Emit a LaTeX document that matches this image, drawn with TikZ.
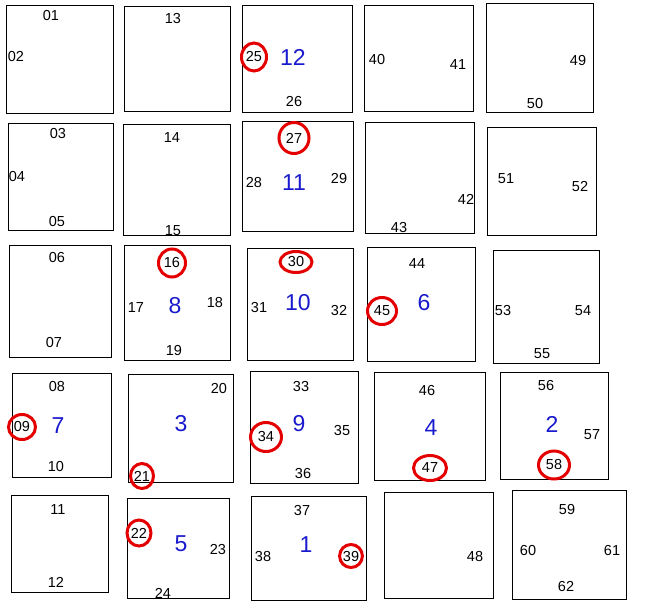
\documentclass[tikz,border=0pt]{standalone}
\usepackage{fontspec}
\setmainfont{Liberation Sans}
\usetikzlibrary{positioning, shapes.geometric, fit}
\definecolor{numblue}{RGB}{25,25,205}
\definecolor{ringred}{RGB}{228,0,0}

\begin{document}
\begin{tikzpicture}[x=1pt, y=-1pt,
    box/.style={draw, line width=1pt, inner sep=0pt},
    lab/.style={inner sep=0pt, font=\fontsize{14.5}{14.5}\selectfont},
    num/.style={inner sep=0pt, text=numblue, font=\fontsize{23}{23}\selectfont},
    ring/.style={draw=ringred, line width=3pt, ellipse, inner sep=0pt}]
    \useasboundingbox (0,0) rectangle (651,603);

    % Cases (ligne 1)
    \node[box, fit={(6,5) (113,113)}] (b11) {};
    \node[box, fit={(124,6) (230,111)}] (b12) {};
    \node[box, fit={(242,5) (352,112)}] (b13) {};
    \node[box, fit={(364,5) (473,111)}] (b14) {};
    \node[box, fit={(486,3) (593,112)}] (b15) {};
    % Cases (ligne 2)
    \node[box, fit={(8,123) (113,230)}] (b21) {};
    \node[box, fit={(123,124) (230,235)}] (b22) {};
    \node[box, fit={(242,121) (353,231)}] (b23) {};
    \node[box, fit={(365,122) (474,233)}] (b24) {};
    \node[box, fit={(487,127) (596,235)}] (b25) {};
    % Cases (ligne 3)
    \node[box, fit={(9,245) (111,357)}] (b31) {};
    \node[box, fit={(124,245) (230,360)}] (b32) {};
    \node[box, fit={(247,248) (353,360)}] (b33) {};
    \node[box, fit={(367,247) (475,361)}] (b34) {};
    \node[box, fit={(493,250) (599,363)}] (b35) {};
    % Cases (ligne 4)
    \node[box, fit={(12,373) (111,477)}] (b41) {};
    \node[box, fit={(128,374) (233,482)}] (b42) {};
    \node[box, fit={(250,371) (358,483)}] (b43) {};
    \node[box, fit={(374,372) (485,480)}] (b44) {};
    \node[box, fit={(500,372) (608,479)}] (b45) {};
    % Cases (ligne 5)
    \node[box, fit={(11,495) (108,592)}] (b51) {};
    \node[box, fit={(127,498) (229,598)}] (b52) {};
    \node[box, fit={(251,496) (366,600)}] (b53) {};
    \node[box, fit={(384,492) (493,598)}] (b54) {};
    \node[box, fit={(512,490) (626,599)}] (b55) {};

    % Numeros des pieces
    \node[num] (n12) at (293,57) {12};
    \node[num] (n11) at (294,183) {11};
    \node[num] (n8) at (175,306) {8};
    \node[num] (n10) at (298,303) {10};
    \node[num] (n6) at (424,303) {6};
    \node[num] (n7) at (58,426) {7};
    \node[num] (n3) at (181,424) {3};
    \node[num] (n9) at (299,424) {9};
    \node[num] (n4) at (431,428) {4};
    \node[num] (n2) at (552,424) {2};
    \node[num] (n5) at (181,544) {5};
    \node[num] (n1) at (306,545) {1};

    % Reperes (ligne 1)
    \node[lab] (p01) at (51,16) {01};
    \node[lab] (p02) at (16,57) {02};
    \node[lab] (p13) at (173,19) {13};
    \node[lab, ring, minimum width=25, minimum height=28] (p25) at (254,57) {25};
    \node[lab] (p26) at (294,102) {26};
    \node[lab] (p40) at (377,60) {40};
    \node[lab] (p41) at (458,65) {41};
    \node[lab] (p49) at (578,61) {49};
    \node[lab] (p50) at (535,104) {50};
    % Reperes (ligne 2)
    \node[lab] (p03) at (58,134) {03};
    \node[lab] (p04) at (17,177) {04};
    \node[lab] (p05) at (57,222) {05};
    \node[lab] (p14) at (172,138) {14};
    \node[lab] (p15) at (173,231) {15};
    \node[lab, ring, minimum width=30, minimum height=31] (p27) at (294,138) {27};
    \node[lab] (p28) at (254,183) {28};
    \node[lab] (p29) at (339,179) {29};
    \node[lab] (p42) at (466,199) {42};
    \node[lab] (p43) at (399,228) {43};
    \node[lab] (p51) at (506,179) {51};
    \node[lab] (p52) at (580,187) {52};
    % Reperes (ligne 3)
    \node[lab] (p06) at (57,258) {06};
    \node[lab] (p07) at (54,343) {07};
    \node[lab, ring, minimum width=27, minimum height=28] (p16) at (172,263) {16};
    \node[lab] (p17) at (136,308) {17};
    \node[lab] (p18) at (215,303) {18};
    \node[lab] (p19) at (174,351) {19};
    \node[lab, ring, minimum width=32, minimum height=21] (p30) at (296,262) {30};
    \node[lab] (p31) at (259,308) {31};
    \node[lab] (p32) at (339,311) {32};
    \node[lab] (p44) at (417,264) {44};
    \node[lab, ring, minimum width=29, minimum height=27] (p45) at (382,311) {45};
    \node[lab] (p53) at (503,311) {53};
    \node[lab] (p54) at (583,311) {54};
    \node[lab] (p55) at (542,354) {55};
    % Reperes (ligne 4)
    \node[lab] (p08) at (57,387) {08};
    \node[lab, ring, minimum width=27, minimum height=25] (p09) at (22,427) {09};
    \node[lab] (p10) at (56,467) {10};
    \node[lab] (p20) at (219,389) {20};
    \node[lab, ring, minimum width=23, minimum height=25] (p21) at (142,476) {21};
    \node[lab] (p33) at (301,387) {33};
    \node[lab, ring, minimum width=31, minimum height=29] (p34) at (266,437) {34};
    \node[lab] (p35) at (342,431) {35};
    \node[lab] (p36) at (303,474) {36};
    \node[lab] (p46) at (427,391) {46};
    \node[lab, ring, minimum width=33, minimum height=25] (p47) at (430,468) {47};
    \node[lab] (p56) at (546,386) {56};
    \node[lab] (p57) at (592,435) {57};
    \node[lab, ring, minimum width=31, minimum height=28] (p58) at (554,465) {58};
    % Reperes (ligne 5)
    \node[lab] (p11) at (58,510) {11};
    \node[lab] (p12) at (56,582) {12};
    \node[lab, ring, minimum width=24, minimum height=26] (p22) at (139,533) {22};
    \node[lab] (p23) at (218,550) {23};
    \node[lab] (p24) at (163,593) {24};
    \node[lab] (p37) at (302,511) {37};
    \node[lab] (p38) at (263,557) {38};
    \node[lab, ring, minimum width=21, minimum height=23] (p39) at (351,556) {39};
    \node[lab] (p48) at (475,557) {48};
    \node[lab] (p59) at (567,510) {59};
    \node[lab] (p60) at (528,551) {60};
    \node[lab] (p61) at (612,551) {61};
    \node[lab] (p62) at (566,587) {62};
\end{tikzpicture}
\end{document}
